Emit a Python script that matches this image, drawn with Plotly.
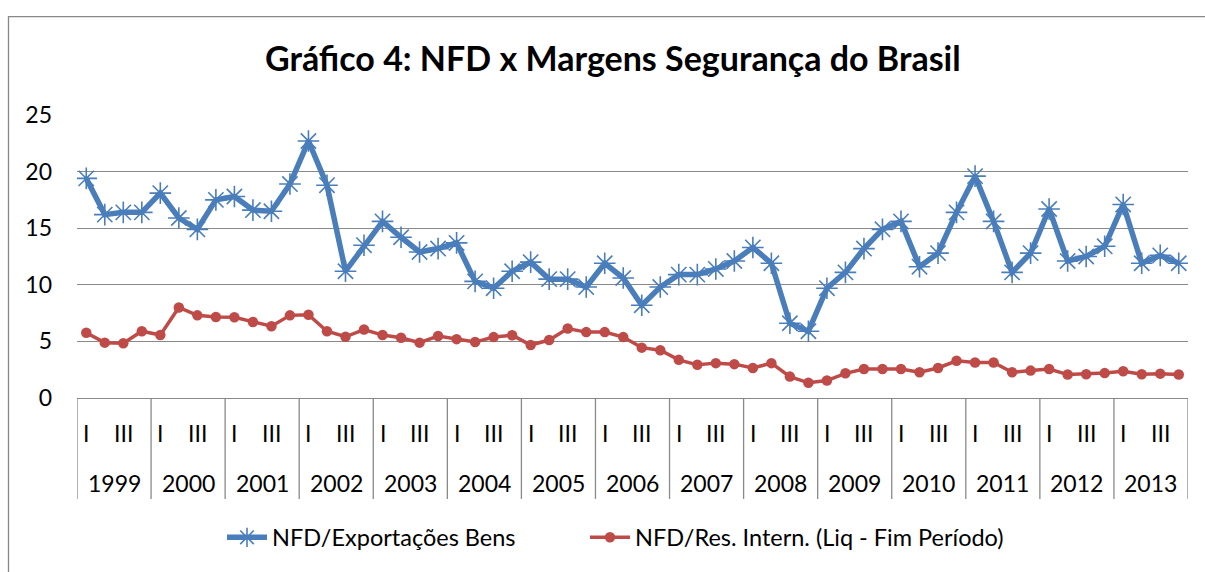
import plotly.graph_objects as go

years = [1999, 2000, 2001, 2002, 2003, 2004, 2005, 2006, 2007, 2008, 2009, 2010, 2011, 2012, 2013]
quarters = ["I", "II", "III", "IV"]
quarter_labels = ["I", "", "III", ""]

exports = [
    19.4, 16.2, 16.4, 16.4,
    18.1, 15.9, 14.9, 17.5,
    17.8, 16.6, 16.5, 18.9,
    22.7, 18.8, 11.2, 13.5,
    15.6, 14.2, 12.9, 13.2,
    13.7, 10.3, 9.7, 11.2,
    12.0, 10.5, 10.5, 9.8,
    11.9, 10.6, 8.2, 9.8,
    10.9, 10.9, 11.4, 12.1,
    13.3, 11.9, 6.6, 5.9,
    9.7, 11.1, 13.2, 14.9,
    15.6, 11.6, 12.8, 16.4,
    19.6, 15.6, 11.1, 12.8,
    16.7, 12.1, 12.5, 13.4,
    17.1, 11.9, 12.6, 11.9,
]
reserves = [
    5.76, 4.89, 4.83, 5.9,
    5.56, 8.0, 7.3, 7.16,
    7.13, 6.72, 6.34, 7.3,
    7.36, 5.9, 5.41, 6.05,
    5.56, 5.32, 4.89, 5.47,
    5.2, 4.94, 5.38, 5.55,
    4.68, 5.12, 6.14, 5.82,
    5.82, 5.38, 4.45, 4.22,
    3.37, 2.93, 3.08, 2.99,
    2.65, 3.08, 1.89, 1.34,
    1.54, 2.18, 2.56, 2.56,
    2.56, 2.27, 2.65, 3.29,
    3.14, 3.14, 2.27, 2.42,
    2.56, 2.07, 2.1, 2.2,
    2.36, 2.1, 2.15, 2.07,
]
series_names = ["NFD/Exportações Bens", "NFD/Res. Intern. (Liq - Fim Período)"]
title_text = "Gráfico 4: NFD x Margens Segurança do Brasil"
y_ticks = [0, 5, 10, 15, 20, 25]

nq = len(quarters)
x = list(range(len(years) * nq))

FONT = "Lato"
BLUE = "#4A7EBB"
RED = "#BE4B48"
GRID = "#898989"

W, H = 1205, 572
PL, PR, PT, PB = 77, 1188, 115, 401
PW, PH = PR - PL, PB - PT


def px(xp):
    return (xp - PL) / PW


def py(yp):
    return (PB - yp) / PH


fig = go.Figure()
fig.add_trace(go.Scatter(
    x=x, y=exports, name=series_names[0], mode="lines+markers",
    line=dict(color=BLUE, width=5.5),
    marker=dict(symbol="asterisk-open", size=18, color=BLUE, line=dict(color=BLUE, width=1.6)),
    legend="legend",
))
fig.add_trace(go.Scatter(
    x=x, y=reserves, name=series_names[1], mode="lines+markers",
    line=dict(color=RED, width=3.5),
    marker=dict(symbol="circle", size=10.5, color=RED),
    legend="legend2",
))

annotations = []
shapes = []
for yi, yr in enumerate(years):
    for qi, ql in enumerate(quarter_labels):
        if ql:
            annotations.append(dict(x=x[yi * nq + qi], y=py(436), xref="x", yref="paper",
                                    text=ql, showarrow=False, xanchor="center", yanchor="middle",
                                    font=dict(family=FONT, size=23, color="#000000")))
    annotations.append(dict(x=x[yi * nq] + (nq - 1) / 2, y=py(487), xref="x", yref="paper",
                            text=str(yr), showarrow=False, xanchor="center", yanchor="middle",
                            font=dict(family=FONT, size=23, color="#000000")))
for k in range(len(years) + 1):
    xb = k * nq - 0.5
    shapes.append(dict(type="line", xref="x", yref="paper", x0=xb, x1=xb, y0=0, y1=py(503),
                       line=dict(color=GRID, width=1.3)))

# outer chart border (only its left and top edges fall inside the picture)
shapes.append(dict(type="rect", xref="paper", yref="paper",
                   x0=px(8.5), x1=px(1230), y0=py(600), y1=py(15.5),
                   line=dict(color="#888888", width=1.3), fillcolor="rgba(0,0,0,0)", layer="below"))

annotations.append(dict(x=px(613), y=py(57), xref="paper", yref="paper",
                        text="<b>" + title_text + "</b>", showarrow=False,
                        xanchor="center", yanchor="middle",
                        font=dict(family=FONT, size=34, color="#000000")))

legend_common = dict(orientation="h", xanchor="left", yanchor="middle",
                     font=dict(family=FONT, size=23.5, color="#000000"),
                     itemwidth=40, bgcolor="rgba(0,0,0,0)")

fig.update_layout(
    width=W, height=H,
    margin=dict(l=PL, r=W - PR, t=PT, b=H - PB, pad=0),
    paper_bgcolor="white", plot_bgcolor="white",
    font=dict(family=FONT, size=23, color="#000000"),
    showlegend=True,
    legend=dict(x=px(222), y=py(542), **legend_common),
    legend2=dict(x=px(585), y=py(542), **legend_common),
    annotations=annotations,
    shapes=shapes,
)
fig.update_xaxes(range=[-0.5, len(x) - 0.5], showgrid=False, showticklabels=False,
                 zeroline=False, showline=False, ticks="")
fig.update_yaxes(range=[0, 25], tickvals=y_ticks, showgrid=True, gridcolor=GRID, gridwidth=1.3,
                 zeroline=True, zerolinecolor=GRID, zerolinewidth=1.3, showline=False,
                 ticks="", ticklabelstandoff=24, tickfont=dict(family=FONT, size=23))

fig.write_html(
    "out.html",
    config={"displayModeBar": False},
    post_script=(
        "document.body.style.margin='0';"
        "document.body.style.overflow='hidden';"
        "document.documentElement.style.overflow='hidden';"
    ),
)
